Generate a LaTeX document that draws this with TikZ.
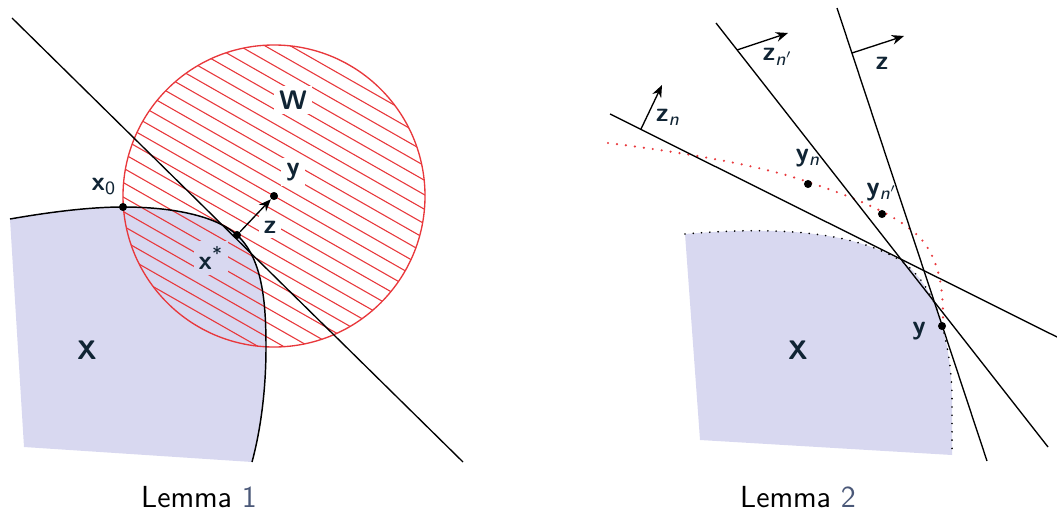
\documentclass[tikz,border=0pt]{standalone}
\usepackage{amsmath,amssymb}
\usepackage{tikz}
\usetikzlibrary{arrows.meta}
\usetikzlibrary{calc}
\usepackage{xcolor}

\definecolor{regionfill}{HTML}{D8D8F0}
\definecolor{hatchred}{HTML}{E8383C}
\definecolor{lblnavy}{HTML}{102434}
\definecolor{linkgray}{HTML}{4A5878}

\def\u{0.41pt}

\tikzset{
  lbl/.style={font=\fontsize{11}{13}\selectfont\sffamily\bfseries, text=lblnavy, inner sep=2pt},
  caption/.style={font=\fontsize{12.5}{15}\selectfont\sffamily},
  dot/.style={circle, fill=black, inner sep=0pt, minimum size=3.3pt},
  bound/.style={line width=0.6pt},
  hatch/.style={draw=hatchred, line width=0.45pt},
  normal/.style={-{Stealth[length=5pt,width=4pt]}, line width=0.55pt},
  dotted black/.style={line width=0.75pt, line cap=round, dash pattern=on 0pt off 3.4pt},
  dotted red/.style={draw=hatchred, line width=1pt, line cap=round, dash pattern=on 0pt off 3.7pt}
}

\begin{document}
\begin{tikzpicture}[x=\u, y=-\u]
  \useasboundingbox (0,0) rectangle (1057,516);

  % ---- Lemma 1 ----
  \fill[regionfill] (10,219) .. controls (50,212) and (90,207) .. (123,207)
    .. controls (170,207) and (215,215) .. (237,235)
    .. controls (262,258) and (266,300) .. (266,347)
    .. controls (266,400) and (258,440) .. (252,462) -- (24,447) -- cycle;

  \coordinate (yc) at (274,196);
  \begin{scope}
    \clip (yc) circle[radius=151*\u];
    \foreach \c in {-290,-275.5,...,300}
      \draw[hatch] ($(yc)+(-200,\c-114)$) -- ($(yc)+(200,\c+114)$);
  \end{scope}
  \draw[hatchred, line width=0.55pt] (yc) circle[radius=151*\u];

  \coordinate (t1) at (12,18);
  \coordinate (t2) at (463,462);
  \draw[line width=0.55pt] (t1) -- (t2);

  \draw[bound] (10,219) .. controls (50,212) and (90,207) .. (123,207)
    .. controls (170,207) and (215,215) .. (237,235)
    .. controls (262,258) and (266,300) .. (266,347)
    .. controls (266,400) and (258,440) .. (252,462);

  \node[dot] (x0) at (123,207) {};
  \node[dot] (xs) at (237,235) {};
  \node[dot] (y) at (yc) {};
  \draw[normal] (xs) -- (y);

  \node[lbl, fill=white] (lblW) at (293,100) {W};
  \node[lbl, fill=white] (lbly) at (293,172) {y};
  \node[lbl, fill=white] (lblz) at (270,227) {z};
  \node[lbl, fill=regionfill] (lblxs) at (211,258) {x\textsuperscript{\mdseries *}};
  \node[lbl] (lblx0) at (104,187) {x\textsubscript{\mdseries 0}};
  \node[lbl] (lblX) at (87,350) {X};

  \node[caption] (cap1) at (199,497) {Lemma \textcolor{linkgray}{1}};

  % ---- Lemma 2 ----
  \fill[regionfill] (685,234) .. controls (780,226) and (850,232) .. (898,259)
    .. controls (920,272) and (936,300) .. (942,326)
    .. controls (947,342) and (952,370) .. (952,400) -- (952,455)
    -- (700,440) -- cycle;
  \draw[dotted black] (685,234) .. controls (780,226) and (850,232) .. (898,259)
    .. controls (920,272) and (936,300) .. (942,326)
    .. controls (947,342) and (952,370) .. (952,400) -- (952,455);

  \draw[dotted red] (608,143) .. controls (680,152) and (760,165) .. (808,182)
    .. controls (850,196) and (900,215) .. (922,240)
    .. controls (940,262) and (943,290) .. (943,318);

  \coordinate (a1) at (610,114);
  \coordinate (a2) at (1057,337);
  \coordinate (b1) at (716,23);
  \coordinate (b2) at (1048,447);
  \coordinate (c1) at (837,8);
  \coordinate (c2) at (987,461);
  \draw[line width=0.55pt] (a1) -- (a2);
  \draw[line width=0.55pt] (b1) -- (b2);
  \draw[line width=0.55pt] (c1) -- (c2);

  \coordinate (zn0) at (641,129);
  \coordinate (zn1) at (662,85);
  \coordinate (znp0) at (737,50);
  \coordinate (znp1) at (788,33);
  \coordinate (z0) at (852,53);
  \coordinate (z1) at (904,36);
  \draw[normal] (zn0) -- (zn1);
  \draw[normal] (znp0) -- (znp1);
  \draw[normal] (z0) -- (z1);

  \node[dot] (yn) at (808,184) {};
  \node[dot] (ynp) at (882,214) {};
  \node[dot] (y2) at (942,326) {};

  \node[lbl] (lblzn) at (668,117) {z\textsubscript{\mdseries\itshape n}};
  \node[lbl] (lblznp) at (778,57) {z\textsubscript{\mdseries\itshape n$'$}};
  \node[lbl] (lblz2) at (882,63) {z};
  \node[lbl] (lblyn) at (808,158) {y\textsubscript{\mdseries\itshape n}};
  \node[lbl] (lblynp) at (882,192) {y\textsubscript{\mdseries\itshape n$'$}};
  \node[lbl] (lbly2) at (919,331) {y};
  \node[lbl] (lblX2) at (798,350) {X};

  \node[caption] (cap2) at (798,497) {Lemma \textcolor{linkgray}{2}};
\end{tikzpicture}
\end{document}
